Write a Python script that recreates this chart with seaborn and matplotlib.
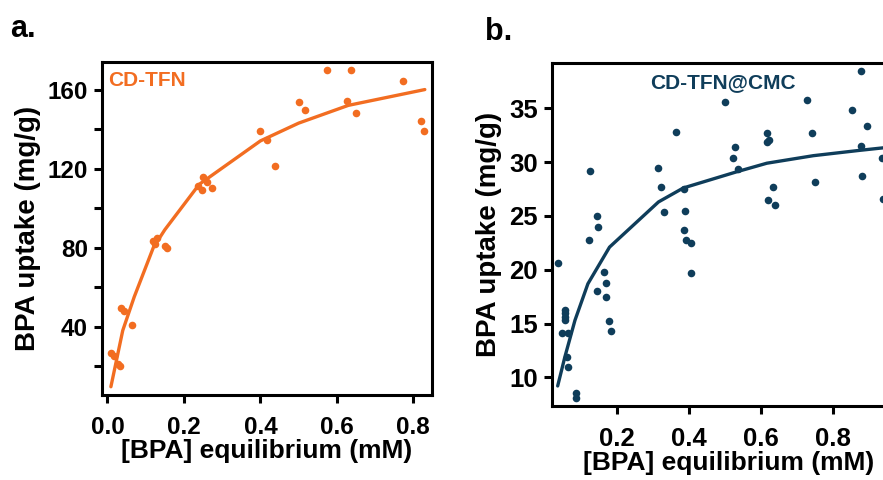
import matplotlib
matplotlib.use("Agg")
import matplotlib.pyplot as plt
from matplotlib.ticker import MultipleLocator
import seaborn as sns
import pandas as pd

sns.set_theme(style="ticks")
plt.rcParams['font.family'] = ['Liberation Sans', 'DejaVu Sans']
plt.rcParams['font.weight'] = 'bold'
plt.rcParams['text.color'] = 'black'
plt.rcParams['axes.labelcolor'] = 'black'
plt.rcParams['xtick.color'] = 'black'
plt.rcParams['ytick.color'] = 'black'

ORANGE = '#F26D21'
NAVY = '#0F3D5A'

# panel a: CD-TFN
a_x = [0.009, 0.017, 0.028, 0.033, 0.035, 0.042, 0.064, 0.118, 0.129, 0.124,
       0.151, 0.155, 0.238, 0.248, 0.249, 0.26, 0.274, 0.399, 0.417, 0.437,
       0.502, 0.517, 0.573, 0.626, 0.636, 0.649, 0.774, 0.819, 0.829]
a_y = [26.4, 25, 21, 20, 49.2, 48, 40.6, 83.2, 85, 82,
       80.7, 79.7, 111.2, 109, 115.6, 113.3, 110, 139, 134.7, 121.2,
       153.7, 149.5, 170.1, 154.1, 170.1, 147.9, 164.2, 144, 139]
a_fit_x = [0.009, 0.04, 0.07, 0.12, 0.15, 0.24, 0.40, 0.50, 0.63, 0.83]
a_fit_y = [9.5, 38, 55, 80, 89, 112, 134, 143, 152, 160]

# panel b: CD-TFN@CMC
b_x = [0.038, 0.047, 0.056, 0.056, 0.057, 0.057, 0.066, 0.061, 0.066, 0.086,
       0.086, 0.126, 0.123, 0.144, 0.149, 0.144, 0.166, 0.170, 0.169, 0.179,
       0.183, 0.314, 0.322, 0.332, 0.364, 0.387, 0.391, 0.387, 0.392, 0.406,
       0.406, 0.501, 0.522, 0.528, 0.537, 0.618, 0.618, 0.622, 0.633, 0.620,
       0.641, 0.729, 0.743, 0.751, 0.853, 0.878, 0.896, 0.878, 0.881, 0.936,
       0.940]
b_y = [20.6, 14.1, 16.25, 15.95, 15.6, 15.3, 14.1, 11.9, 11.0, 8.5,
       8.05, 29.2, 22.8, 25.0, 24.0, 18.0, 19.76, 18.8, 17.5, 15.26,
       14.3, 29.5, 27.7, 25.4, 32.8, 27.5, 25.5, 23.7, 22.8, 22.45,
       19.7, 35.6, 30.4, 31.4, 29.4, 32.7, 31.9, 32.05, 27.66, 26.5,
       26.0, 35.8, 32.7, 28.2, 34.8, 38.5, 33.35, 31.5, 28.7, 30.35,
       26.6]
b_fit_x = [0.036, 0.056, 0.084, 0.12, 0.18, 0.316, 0.385, 0.533, 0.617, 0.746, 0.876, 0.96]
b_fit_y = [9.2, 11.9, 15.3, 18.7, 22.1, 26.3, 27.6, 29.1, 29.9, 30.6, 31.1, 31.4]

a_pts = pd.DataFrame({'x': a_x, 'y': a_y})
a_fit = pd.DataFrame({'x': a_fit_x, 'y': a_fit_y})
b_pts = pd.DataFrame({'x': b_x, 'y': b_y})
b_fit = pd.DataFrame({'x': b_fit_x, 'y': b_fit_y})

fig = plt.figure(figsize=(8.83, 4.8), dpi=100)
ax1 = fig.add_axes([0.1152, 0.177, 0.3737, 0.694])
ax2 = fig.add_axes([0.6248, 0.154, 0.3998, 0.714])


def style_axes(ax, tick_size):
    for s in ax.spines.values():
        s.set_linewidth(2.2)
        s.set_color('black')
        s.set_visible(True)
    ax.tick_params(axis='both', which='both', length=6, width=2.2, direction='out',
                   labelsize=tick_size, color='black', labelcolor='black')
    ax.tick_params(axis='x', which='major', pad=9)
    ax.tick_params(axis='y', which='major', pad=4)
    for lab in ax.get_xticklabels() + ax.get_yticklabels():
        lab.set_fontweight('bold')
    ax.set_xlabel('[BPA] equilibrium (mM)', fontsize=19, fontweight='bold', labelpad=0)
    ax.set_ylabel('BPA uptake (mg/g)', fontsize=20, fontweight='bold', labelpad=5)


# panel a
sns.lineplot(data=a_fit, x='x', y='y', ax=ax1, color=ORANGE, linewidth=2.4, sort=False)
sns.scatterplot(data=a_pts, x='x', y='y', ax=ax1, color=ORANGE, s=30, linewidth=0, zorder=3)
ax1.set_xlim(-0.015, 0.848)
ax1.set_ylim(5.3, 174)
ax1.yaxis.set_minor_locator(MultipleLocator(20))
ax1.set_xticks([0.0, 0.2, 0.4, 0.6, 0.8])
ax1.set_xticklabels(['0.0', '0.2', '0.4', '0.6', '0.8'])
ax1.set_yticks([40, 80, 120, 160])
ax1.set_yticklabels(['40', '80', '120', '160'])
style_axes(ax1, 17.5)
ax1.text(0.019, 0.945, 'CD-TFN', transform=ax1.transAxes, color=ORANGE,
         fontsize=15, fontweight='bold', ha='left', va='center')

# panel b
sns.lineplot(data=b_fit, x='x', y='y', ax=ax2, color=NAVY, linewidth=2.4, sort=False)
sns.scatterplot(data=b_pts, x='x', y='y', ax=ax2, color=NAVY, s=30, linewidth=0, zorder=3)
ax2.set_xlim(0.0194, 1.0)
ax2.set_ylim(7.33, 39.18)
ax2.set_xticks([0.2, 0.4, 0.6, 0.8])
ax2.set_xticklabels(['0.2', '0.4', '0.6', '0.8'])
ax2.set_yticks([10, 15, 20, 25, 30, 35])
ax2.set_yticklabels(['10', '15', '20', '25', '30', '35'])
style_axes(ax2, 18.5)
ax2.text(0.485, 0.945, 'CD-TFN@CMC', transform=ax2.transAxes, color=NAVY,
         fontsize=15, fontweight='bold', ha='center', va='center')

fig.text(10 / 883, 1 - 29 / 480, 'a.', fontsize=22, fontweight='bold', ha='left', va='center')
fig.text(485 / 883, 1 - 32 / 480, 'b.', fontsize=22, fontweight='bold', ha='left', va='center')

fig.savefig('out.png', dpi=100)
